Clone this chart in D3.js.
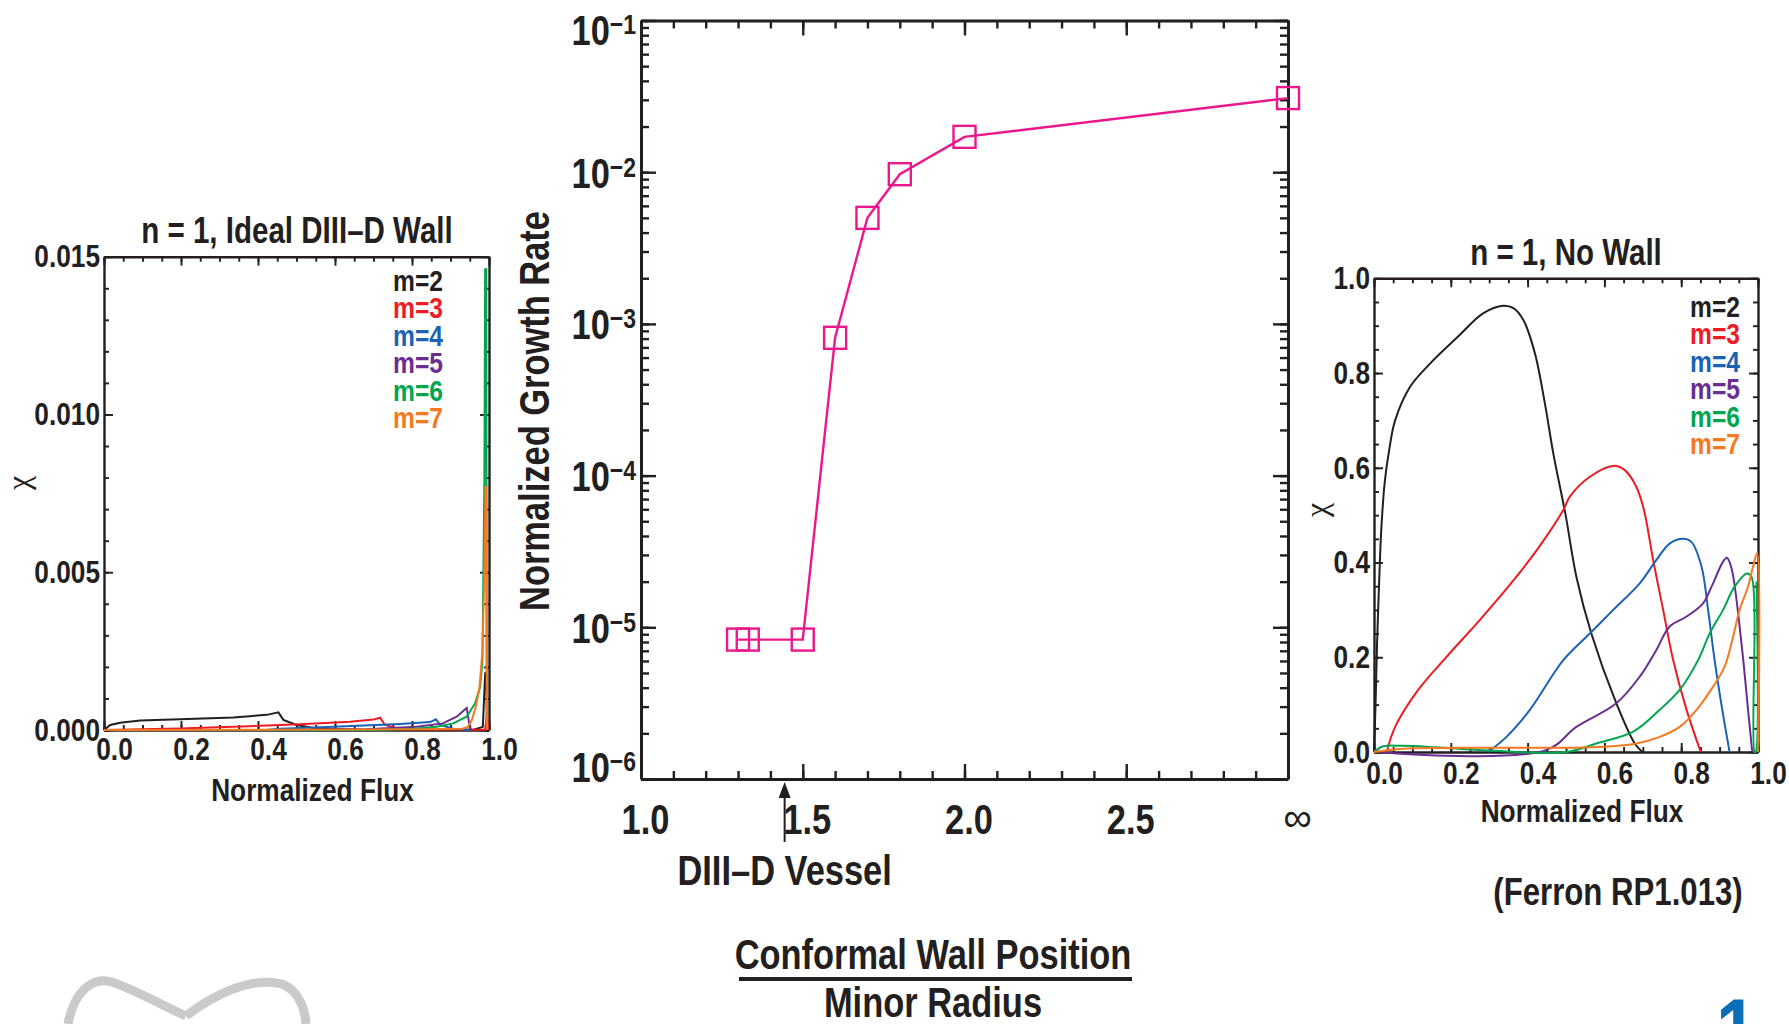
<!DOCTYPE html>
<html>
<head>
<meta charset="utf-8">
<script src="https://cdnjs.cloudflare.com/ajax/libs/d3/7.8.5/d3.min.js"></script>
<style>
body { margin: 0; background: #fff; }
svg text { font-family: "Liberation Sans Narrow", "Liberation Sans", Arial, sans-serif; font-weight: bold; fill: #231f20; }
</style>
</head>
<body>
<div id="chart"></div>
<script>
// ---- data: growth rate vs conformal wall position (centre panel)
var wallPos    = [1.30, 1.33, 1.50, 1.60, 1.70, 1.80, 2.00, 3.00];
var growthRate = [8.3e-6, 8.3e-6, 8.3e-6, 8.1e-4, 5.0e-3, 9.7e-3, 1.71e-2, 3.08e-2];
var wallTicks = [1.0, 1.5, 2.0, 2.5, 3.0];
var wallTickLabels = ["1.0", "1.5", "2.0", "2.5", "\u221e"];
var rateDecades = [1e-6, 1e-5, 1e-4, 1e-3, 1e-2, 1e-1];
var vesselPos = 1.444;

// ---- data: n = 1, ideal DIII-D wall (left panel), [flux, chi]
var idealM2 = [[0,0],[0.016,0.00016],[0.042,0.00023],[0.094,0.0003],[0.197,0.00034],[0.336,0.0004],[0.423,0.00048],[0.453,0.00056],[0.466,0.00032],[0.50,0.00016],[0.552,0.00005],[0.68,0.00001],[0.96,0.00001],[0.984,0.0001],[0.990,0.0018],[0.993,0.0018],[0.995,0]];
var idealM3 = [[0,0],[0.197,0.00005],[0.336,0.0001],[0.509,0.00018],[0.639,0.00026],[0.70,0.00033],[0.717,0.00039],[0.73,0.00016],[0.77,0.00002],[0.99,0.00001],[0.995,0.0005],[0.998,0]];
var idealM4 = [[0.42,0],[0.457,0.00004],[0.596,0.0001],[0.769,0.00019],[0.847,0.00025],[0.862,0.00034],[0.873,0.00016],[0.907,0.00004],[0.95,0]];
var idealM5 = [[0.50,0],[0.68,0.00002],[0.812,0.0001],[0.88,0.00021],[0.916,0.00042],[0.942,0.0007],[0.95,0.0001],[0.953,0]];
var idealM6 = [[0,0],[0.72,0],[0.812,0.00005],[0.864,0.0001],[0.907,0.00021],[0.942,0.00042],[0.964,0.00085],[0.977,0.00137],[0.983,0.0022],[0.988,0.008],[0.990,0.0146],[0.993,0.0146],[0.994,0]];
var idealM7 = [[0,0],[0.855,0.00002],[0.93,0.00004],[0.945,0.0001],[0.955,0.0003],[0.965,0.0007],[0.975,0.0013],[0.983,0.0025],[0.988,0.005],[0.991,0.0077],[0.993,0.0077],[0.995,0]];

// ---- data: n = 1, no wall (right panel), [flux, chi]
var noWallM2 = [[0,0],[0.004,0.1],[0.008,0.23],[0.013,0.35],[0.019,0.47],[0.028,0.57],[0.040,0.64],[0.055,0.70],[0.094,0.771],[0.146,0.82],[0.219,0.877],[0.284,0.926],[0.336,0.942],[0.363,0.937],[0.389,0.912],[0.419,0.842],[0.445,0.736],[0.467,0.63],[0.499,0.50],[0.527,0.37],[0.566,0.25],[0.631,0.103],[0.679,0.018],[0.699,0]];
var noWallM3 = [[0.033,0],[0.055,0.053],[0.115,0.131],[0.189,0.201],[0.276,0.279],[0.371,0.37],[0.436,0.44],[0.493,0.511],[0.51,0.539],[0.562,0.581],[0.623,0.604],[0.653,0.595],[0.683,0.56],[0.703,0.511],[0.727,0.405],[0.753,0.30],[0.779,0.194],[0.814,0.089],[0.851,0]];
var noWallM4 = [[0.297,0],[0.345,0.032],[0.406,0.089],[0.493,0.194],[0.562,0.25],[0.623,0.30],[0.692,0.356],[0.735,0.405],[0.77,0.44],[0.805,0.45],[0.827,0.443],[0.853,0.391],[0.87,0.30],[0.887,0.194],[0.907,0.089],[0.926,0]];
var noWallM5 = [[0,0.004],[0.02,0],[0.448,0.004],[0.527,0.053],[0.631,0.103],[0.692,0.159],[0.735,0.215],[0.77,0.265],[0.814,0.286],[0.857,0.314],[0.879,0.349],[0.909,0.402],[0.919,0.41],[0.931,0.388],[0.957,0.229],[0.974,0.09],[0.985,0]];
var noWallM6 = [[0,0],[0.024,0.012],[0.076,0.013],[0.16,0.01],[0.30,0.003],[0.50,0],[0.579,0.018],[0.675,0.043],[0.744,0.089],[0.796,0.131],[0.844,0.194],[0.874,0.25],[0.909,0.30],[0.939,0.349],[0.971,0.377],[0.983,0.37],[0.991,0],[0.994,0],[0.996,0.36]];
var noWallM7 = [[0,0],[0.076,0.007],[0.3,0.009],[0.51,0.009],[0.597,0.011],[0.683,0.018],[0.744,0.032],[0.796,0.053],[0.84,0.089],[0.883,0.138],[0.913,0.18],[0.935,0.243],[0.952,0.30],[0.974,0.349],[0.987,0.391],[0.998,0.42],[1.0,0]];

var modeLabels = ["m=2", "m=3", "m=4", "m=5", "m=6", "m=7"];
var fluxTicks = [0, 0.2, 0.4, 0.6, 0.8, 1.0];
var idealChiTicks = [0, 0.005, 0.010, 0.015];
var noWallChiTicks = [0, 0.2, 0.4, 0.6, 0.8, 1.0];

var modeColors = ["#231f20", "#ed1c24", "#1b62b5", "#6a2d91", "#00a64f", "#f47a20"];
var ink = "#231f20";
var magenta = "#ec178c";

var svg = d3.select("#chart").append("svg")
    .attr("width", 1789)
    .attr("height", 1024);

function addAxis(g, axis, tx, ty, fs, lw) {
    var a = g.append("g")
        .attr("transform", "translate(" + tx + "," + ty + ")")
        .call(axis);
    a.attr("color", ink).attr("font-size", fs);
    a.select(".domain").attr("stroke-width", lw);
    a.selectAll(".tick line").attr("stroke-width", lw * 0.8);
    return a;
}

// frame with inward ticks on all four sides
function frame(g, x, y, o) {
    var xl = x.range()[0], xr = x.range()[1], yb = y.range()[0], yt = y.range()[1];
    var sides = [
        [d3.axisBottom, x, o.xMajor, o.xMinor, 0, yb],
        [d3.axisTop, x, o.xMajor, o.xMinor, 0, yt],
        [d3.axisLeft, y, o.yMajor, o.yMinor, xl, 0],
        [d3.axisRight, y, o.yMajor, o.yMinor, xr, 0]
    ];
    sides.forEach(function (s) {
        var minor = s[0](s[1]).tickValues(s[3]).tickSize(-o.minor).tickSizeOuter(0).tickFormat("");
        addAxis(g, minor, s[4], s[5], 0, o.lw).select(".domain").remove();
        var major = s[0](s[1]).tickValues(s[2]).tickSize(-o.major).tickSizeOuter(0).tickFormat("");
        addAxis(g, major, s[4], s[5], 0, o.lw);
    });
}

// ---------------- centre panel
var xC = d3.scaleLinear().domain([1.0, 3.0]).range([641, 1288]);
var yC = d3.scaleLog().domain([1e-6, 1e-1]).range([779, 20.5]);
var gC = svg.append("g");

frame(gC, xC, yC, {
    xMajor: wallTicks, xMinor: xC.ticks(20),
    yMajor: rateDecades, yMinor: yC.ticks(),
    major: 15, minor: 8, lw: 3
});

// x labels
var xLab = addAxis(gC, d3.axisBottom(xC).tickValues(wallTicks).tickSize(0).tickPadding(25)
    .tickFormat(function (d, i) { return wallTickLabels[i]; }), 0, 779, 42, 0);
xLab.select(".domain").remove();
xLab.selectAll(".tick text").attr("dx", 4);
xLab.selectAll(".tick text").filter(function (d, i) { return i === wallTicks.length - 1; })
    .classed("wide", true)
    .style("font-weight", "normal").attr("font-size", 40).attr("dx", 9).attr("dy", "0.68em");

// y labels 10^n
var yLab = addAxis(gC, d3.axisLeft(yC).tickValues(rateDecades).tickSize(0).tickPadding(5)
    .tickFormat(""), 641, 0, 42, 0);
yLab.select(".domain").remove();
yLab.selectAll(".tick text").each(function (d, i) {
    var t = d3.select(this).attr("dy", null);
    var shift = i === 0 ? -13 : (i === rateDecades.length - 1 ? 9 : 0);
    t.attr("y", 15 + shift);
    t.append("tspan").text("10");
    t.append("tspan").attr("font-size", 28).attr("dy", -11)
        .text("\u2212" + Math.abs(Math.round(Math.log10(d))));
});

// growth rate line + square markers
var rateLine = d3.line().x(function (d, i) { return xC(wallPos[i]); }).y(function (d) { return yC(d); });
gC.append("path").datum(growthRate)
    .attr("d", rateLine)
    .attr("fill", "none")
    .attr("stroke", magenta)
    .attr("stroke-width", 2.4);
gC.selectAll("rect.pt").data(growthRate).enter().append("rect")
    .attr("class", "pt")
    .attr("x", function (d, i) { return xC(wallPos[i]) - 11; })
    .attr("y", function (d) { return yC(d) - 11; })
    .attr("width", 22).attr("height", 22)
    .attr("fill", "none")
    .attr("stroke", magenta)
    .attr("stroke-width", 2.4);

// vessel arrow
var ax = xC(vesselPos);
gC.append("line").attr("x1", ax).attr("x2", ax).attr("y1", 842).attr("y2", 792)
    .attr("stroke", ink).attr("stroke-width", 2);
gC.append("path")
    .attr("d", "M" + ax + ",782 L" + (ax - 6) + ",798 L" + (ax + 6) + ",798 Z")
    .attr("fill", ink);
gC.append("text").attr("x", ax).attr("y", 885).attr("text-anchor", "middle")
    .attr("font-size", 42).text("DIII\u2013D Vessel");

gC.append("text")
    .attr("transform", "translate(534,411) rotate(-90)")
    .attr("text-anchor", "middle").attr("dy", "0.36em")
    .attr("font-size", 42).text("Normalized Growth Rate");

// fraction title
svg.append("text").attr("x", 933).attr("y", 969).attr("text-anchor", "middle")
    .attr("font-size", 42).text("Conformal Wall Position");
svg.append("line").attr("x1", 739).attr("x2", 1132).attr("y1", 979).attr("y2", 979)
    .attr("stroke", ink).attr("stroke-width", 4);
svg.append("text").attr("x", 933).attr("y", 1017).attr("text-anchor", "middle")
    .attr("font-size", 42).text("Minor Radius");

// ---------------- flux panels
function fluxPanel(o) {
    var g = svg.append("g");
    var x = d3.scaleLinear().domain([0, 1]).range(o.xRange);
    var y = d3.scaleLinear().domain(o.yDomain).range(o.yRange);
    frame(g, x, y, {
        xMajor: fluxTicks, xMinor: x.ticks(20),
        yMajor: o.yTicks, yMinor: y.ticks(o.yMinorCount),
        major: 9, minor: 5, lw: 2.4
    });
    var xl = addAxis(g, d3.axisBottom(x).tickValues(fluxTicks).tickSize(0).tickPadding(o.xPad)
        .tickFormat(d3.format(".1f")), 0, o.yRange[0], 32, 0);
    xl.select(".domain").remove();
    xl.selectAll(".tick text").attr("dx", 10);
    var yl = addAxis(g, d3.axisLeft(y).tickValues(o.yTicks).tickSize(0).tickPadding(4)
        .tickFormat(d3.format(o.yFormat)), o.xRange[0], 0, 32, 0);
    yl.select(".domain").remove();

    var line = d3.line().x(function (d) { return x(d[0]); }).y(function (d) { return y(d[1]); })
        .curve(o.curve);
    g.selectAll("path.mode").data(o.series).enter().append("path")
        .attr("class", "mode")
        .attr("d", line)
        .attr("fill", "none")
        .attr("stroke", function (d, i) { return modeColors[i]; })
        .attr("stroke-width", 2);

    g.selectAll("text.leg").data(modeLabels).enter().append("text")
        .attr("class", "leg")
        .attr("x", o.legX)
        .attr("y", function (d, i) { return o.legY + i * 27.4; })
        .attr("text-anchor", "end")
        .attr("font-size", 30)
        .style("fill", function (d, i) { return modeColors[i]; })
        .text(function (d) { return d; });

    g.append("text").attr("x", o.titleX).attr("y", o.titleY).attr("text-anchor", "middle")
        .attr("font-size", 36).text(o.title);
    g.append("text").attr("x", (o.xRange[0] + o.xRange[1]) / 2 + 16).attr("y", o.xTitleY)
        .attr("text-anchor", "middle").attr("font-size", 32).text("Normalized Flux");
    g.append("text")
        .attr("class", "wide")
        .attr("transform", "translate(" + o.chiX + "," + o.chiY + ") rotate(-90)")
        .attr("text-anchor", "middle").attr("dy", "0.2em")
        .attr("font-size", 32)
        .style("font-family", "'Liberation Serif', serif").style("font-weight", "normal")
        .text("\u03c7");
}

fluxPanel({
    xRange: [104, 489], yRange: [730, 256.7], yDomain: [0, 0.015],
    yTicks: idealChiTicks, yMinorCount: 15, yFormat: ".3f", xPad: 7,
    series: [idealM2, idealM3, idealM4, idealM5, idealM6, idealM7],
    curve: d3.curveLinear,
    legX: 443, legY: 291,
    title: "n = 1, Ideal DIII\u2013D Wall", titleX: 297, titleY: 243,
    xTitleY: 801, chiX: 23, chiY: 483
});

fluxPanel({
    xRange: [1374, 1758], yRange: [752, 278.3], yDomain: [0, 1],
    yTicks: noWallChiTicks, yMinorCount: 20, yFormat: ".1f", xPad: 9,
    series: [noWallM2, noWallM3, noWallM4, noWallM5, noWallM6, noWallM7],
    curve: d3.curveCatmullRom.alpha(0.5),
    legX: 1740, legY: 317,
    title: "n = 1, No Wall", titleX: 1566, titleY: 265,
    xTitleY: 822, chiX: 1321, chiY: 510
});

svg.append("text").attr("x", 1618).attr("y", 905).attr("text-anchor", "middle")
    .attr("font-size", 38).text("(Ferron RP1.013)");

// ---------------- logo fragments at the bottom edge
svg.append("path")
    .attr("d", "M68,1024 C74,992 92,976 112,982 C135,990 160,1004 186,1016 M186,1016 C212,996 250,976 282,984 C298,990 305,1008 306,1024")
    .attr("fill", "none").attr("stroke", "#c9cacc").attr("stroke-width", 9);
svg.append("text").attr("x", 52).attr("y", 1080).attr("font-size", 80)
    .style("fill", "#1b2a5e").text("DIII\u2013D");
svg.append("text").attr("x", 1757).attr("y", 1062).attr("text-anchor", "end")
    .attr("font-size", 90).style("fill", "#0a6eb4").text("1");

// condensed face: squeeze the bold labels horizontally
svg.selectAll("text").filter(function () { return !this.classList.contains("wide"); })
    .each(function () {
        var w = this.getComputedTextLength();
        if (w > 0) d3.select(this).attr("textLength", w * 0.82).attr("lengthAdjust", "spacingAndGlyphs");
    });
</script>
</body>
</html>
